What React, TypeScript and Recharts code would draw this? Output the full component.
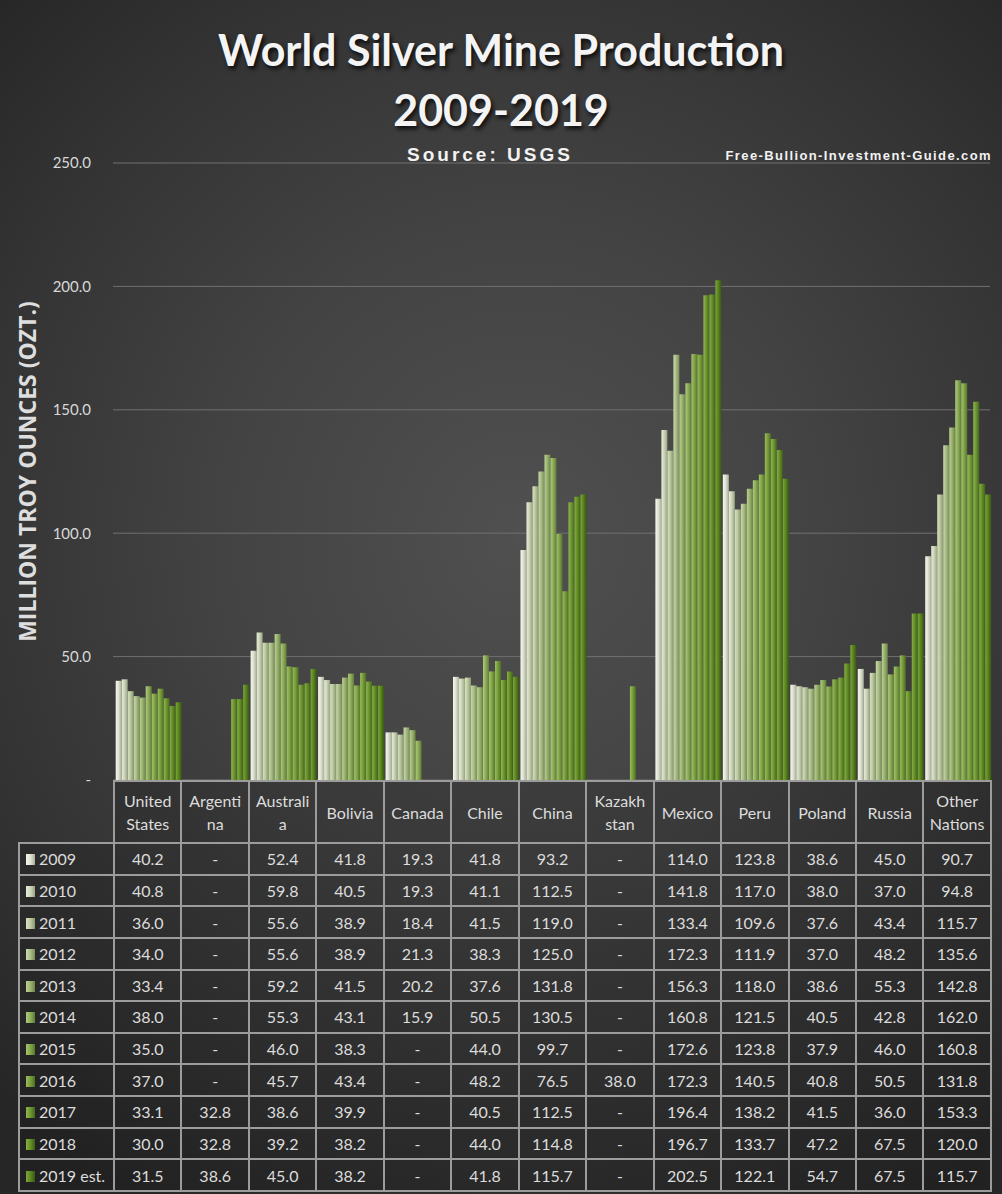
import React from "react";
import { BarChart, Bar, XAxis, YAxis, CartesianGrid } from "recharts";

const countries = ["United States", "Argentina", "Australia", "Bolivia", "Canada", "Chile", "China", "Kazakhstan", "Mexico", "Peru", "Poland", "Russia", "Other Nations"];
const headerLabels = [["United", "States"], ["Argenti", "na"], ["Australi", "a"], ["Bolivia"], ["Canada"], ["Chile"], ["China"], ["Kazakh", "stan"], ["Mexico"], ["Peru"], ["Poland"], ["Russia"], ["Other", "Nations"]];
const years = ["2009", "2010", "2011", "2012", "2013", "2014", "2015", "2016", "2017", "2018", "2019 est."];

const v2009 = [40.2, null, 52.4, 41.8, 19.3, 41.8, 93.2, null, 114.0, 123.8, 38.6, 45.0, 90.7];
const v2010 = [40.8, null, 59.8, 40.5, 19.3, 41.1, 112.5, null, 141.8, 117.0, 38.0, 37.0, 94.8];
const v2011 = [36.0, null, 55.6, 38.9, 18.4, 41.5, 119.0, null, 133.4, 109.6, 37.6, 43.4, 115.7];
const v2012 = [34.0, null, 55.6, 38.9, 21.3, 38.3, 125.0, null, 172.3, 111.9, 37.0, 48.2, 135.6];
const v2013 = [33.4, null, 59.2, 41.5, 20.2, 37.6, 131.8, null, 156.3, 118.0, 38.6, 55.3, 142.8];
const v2014 = [38.0, null, 55.3, 43.1, 15.9, 50.5, 130.5, null, 160.8, 121.5, 40.5, 42.8, 162.0];
const v2015 = [35.0, null, 46.0, 38.3, null, 44.0, 99.7, null, 172.6, 123.8, 37.9, 46.0, 160.8];
const v2016 = [37.0, null, 45.7, 43.4, null, 48.2, 76.5, 38.0, 172.3, 140.5, 40.8, 50.5, 131.8];
const v2017 = [33.1, 32.8, 38.6, 39.9, null, 40.5, 112.5, null, 196.4, 138.2, 41.5, 36.0, 153.3];
const v2018 = [30.0, 32.8, 39.2, 38.2, null, 44.0, 114.8, null, 196.7, 133.7, 47.2, 67.5, 120.0];
const v2019 = [31.5, 38.6, 45.0, 38.2, null, 41.8, 115.7, null, 202.5, 122.1, 54.7, 67.5, 115.7];

const series = [v2009, v2010, v2011, v2012, v2013, v2014, v2015, v2016, v2017, v2018, v2019];
const yTicks = [0, 50, 100, 150, 200, 250];

const baseColors = ["#dfe3d2", "#cdd5b8", "#bbc99e", "#a9bd84", "#99b46c", "#8cae56", "#81a745", "#779f38", "#6d982d", "#649024", "#5b871d"];
const lightColors = ["#f4f6ee", "#e6ecd8", "#d8e2c4", "#cad8ae", "#bccf98", "#b0c884", "#a4c270", "#9abb62", "#8fb554", "#86ae4a", "#7ca540"];
const darkColors = ["#a8ae98", "#98a283", "#88976e", "#798c5a", "#6c8248", "#617a3a", "#587330", "#506b28", "#486422", "#415d1c", "#3a5516"];

const data = countries.map((c, i) => {
  const row: any = { country: c };
  series.forEach((s, k) => {
    row["y" + k] = s[i];
  });
  return row;
});

const fmt = (v: number | null) => (v === null ? "-" : v.toFixed(1));

const W = 1002;
const PLOT_TOP = 163;
const PLOT_BOTTOM = 780;
const PLOT_LEFT = 113;
const PLOT_RIGHT = 990;

export default function App() {
  const colW = (PLOT_RIGHT - PLOT_LEFT) / countries.length;
  const rowH = (1190 - 842) / years.length;
  const border = "2px solid #9c9c9c";
  const cellText: React.CSSProperties = {
    color: "#dcdcdc",
    fontFamily: "Lato, 'Open Sans', sans-serif",
    fontSize: 16,
    textAlign: "center",
    padding: 0,
  };
  return (
    <div
      style={{
        position: "absolute",
        left: 0,
        top: 0,
        width: W,
        height: 1194,
        overflow: "hidden",
        background:
          "radial-gradient(ellipse 75% 65% at 52% 45%, #505050 0%, #434343 40%, #333333 75%, #262626 100%)",
      }}
    >
      <style>{`body{margin:0;}`}</style>
      <div
        style={{
          position: "absolute",
          left: 0,
          width: W,
          top: 20,
          textAlign: "center",
          color: "#f4f4f4",
          fontFamily: "Lato, 'Open Sans', sans-serif",
          fontWeight: 700,
          fontSize: 43,
          lineHeight: "60px",
          textShadow: "2px 3px 4px rgba(0,0,0,0.8)",
        }}
      >
        <div>World Silver Mine Production</div>
        <div>2009-2019</div>
      </div>
      <div
        style={{
          position: "absolute",
          left: 407,
          top: 144,
          color: "#f2f2f2",
          fontFamily: "'Liberation Sans', Arial, sans-serif",
          fontWeight: 700,
          fontSize: 19,
          letterSpacing: 3,
          whiteSpace: "nowrap",
        }}
      >
        Source: USGS
      </div>
      <div
        style={{
          position: "absolute",
          right: 10,
          top: 148,
          color: "#f2f2f2",
          fontFamily: "'Liberation Sans', Arial, sans-serif",
          fontWeight: 700,
          fontSize: 13,
          letterSpacing: 1.4,
          whiteSpace: "nowrap",
        }}
      >
        Free-Bullion-Investment-Guide.com
      </div>

      <div style={{ position: "absolute", left: 0, top: 0 }}>
        <BarChart
          width={W}
          height={PLOT_BOTTOM + 10}
          data={data}
          margin={{ top: PLOT_TOP, right: W - PLOT_RIGHT, bottom: 10, left: 0 }}
          barGap={0}
          barCategoryGap="4%"
        >
          <defs>
            {baseColors.map((c, k) => (
              <linearGradient key={k} id={"g" + k} x1="0" y1="0" x2="1" y2="0">
                <stop offset="0%" stopColor={lightColors[k]} />
                <stop offset="45%" stopColor={c} />
                <stop offset="100%" stopColor={darkColors[k]} />
              </linearGradient>
            ))}
          </defs>
          <CartesianGrid horizontal vertical={false} stroke="#707070" strokeWidth={1} />
          <XAxis dataKey="country" hide />
          <YAxis
            width={PLOT_LEFT}
            domain={[0, 250]}
            ticks={yTicks}
            interval={0}
            axisLine={false}
            tickLine={false}
            tickSize={0}
            tickMargin={22}
            tickFormatter={(v: number) => (v === 0 ? "-" : v.toFixed(1))}
            tick={{ fill: "#d8d8d8", fontSize: 15, fontFamily: "Lato, sans-serif" }}
            label={{
              value: "MILLION TROY OUNCES (OZT.)",
              angle: -90,
              position: "insideLeft",
              offset: 28,
              style: {
                fill: "#dedede",
                fontSize: 23,
                fontWeight: 700,
                fontFamily: "'Open Sans', sans-serif",
                textAnchor: "middle",
              },
            }}
          />
          {series.map((s, k) => (
            <Bar key={k} dataKey={"y" + k} fill={`url(#g${k})`} isAnimationActive={false} />
          ))}
        </BarChart>
      </div>

      <table
        style={{
          position: "absolute",
          left: 18,
          top: PLOT_BOTTOM,
          borderCollapse: "collapse",
          tableLayout: "fixed",
          width: PLOT_RIGHT - 18,
        }}
      >
        <colgroup>
          <col style={{ width: PLOT_LEFT - 18 }} />
          {countries.map((c) => (
            <col key={c} style={{ width: colW }} />
          ))}
        </colgroup>
        <tbody>
          <tr style={{ height: 62 }}>
            <td style={{ border: "none", borderBottom: border, padding: 0 }} />
            {headerLabels.map((h, i) => (
              <td key={i} style={{ ...cellText, border, lineHeight: "23px", background: "rgba(0,0,0,0.12)" }}>
                {h.map((line, j) => (
                  <div key={j}>{line}</div>
                ))}
              </td>
            ))}
          </tr>
          {years.map((y, k) => (
            <tr key={y} style={{ height: rowH }}>
              <td style={{ ...cellText, border, textAlign: "left", paddingLeft: 6, background: "rgba(0,0,0,0.12)", whiteSpace: "nowrap" }}>
                <span
                  style={{
                    display: "inline-block",
                    width: 9,
                    height: 11,
                    marginRight: 4,
                    background: `linear-gradient(to right, ${lightColors[k]}, ${baseColors[k]}, ${darkColors[k]})`,
                  }}
                />
                {y}
              </td>
              {series[k].map((v, i) => (
                <td key={i} style={{ ...cellText, border, background: "rgba(0,0,0,0.12)" }}>
                  {fmt(v)}
                </td>
              ))}
            </tr>
          ))}
        </tbody>
      </table>
    </div>
  );
}
